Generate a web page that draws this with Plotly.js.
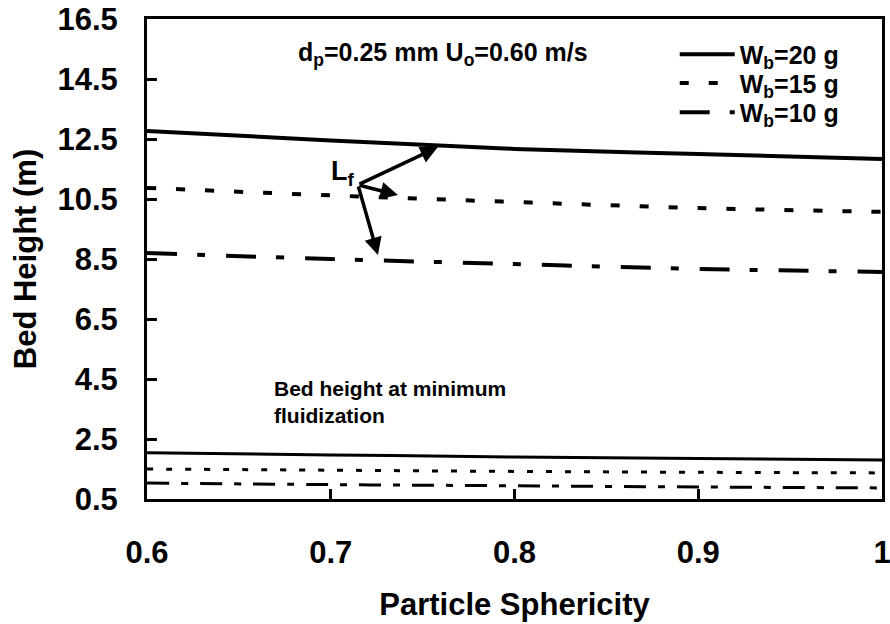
<!DOCTYPE html>
<html>
<head>
<meta charset="utf-8">
<script src="https://cdn.plot.ly/plotly-3.0.1.min.js"></script>
<style>html,body{margin:0;padding:0;background:#fff;}#chart{width:890px;height:624px;}</style>
</head>
<body>
<div id="chart"></div>
<script>
// Particle sphericity (x)
var sphericity = [0.6, 0.7, 0.8, 0.9, 1.0];
// Expanded bed height Lf (m)
var bedH_W20 = [12.77, 12.45, 12.17, 12.0, 11.83];
var bedH_W15 = [10.87, 10.62, 10.4, 10.2, 10.07];
var bedH_W10 = [8.7, 8.5, 8.33, 8.17, 8.07];
// Bed height at minimum fluidization (m)
var bedMf_W20 = [2.04, 1.97, 1.9, 1.85, 1.8];
var bedMf_W15 = [1.5, 1.46, 1.42, 1.39, 1.37];
var bedMf_W10 = [1.03, 0.98, 0.94, 0.9, 0.87];
var seriesNames = ['W<sub>b</sub>=20 g', 'W<sub>b</sub>=15 g', 'W<sub>b</sub>=10 g'];
var xTicks = [0.6, 0.7, 0.8, 0.9, 1.0];
var xTickText = ['0.6', '0.7', '0.8', '0.9', '1'];
var yTicks = [0.5, 2.5, 4.5, 6.5, 8.5, 10.5, 12.5, 14.5, 16.5];
var yTickText = ['0.5', '2.5', '4.5', '6.5', '8.5', '10.5', '12.5', '14.5', '16.5'];

var FONT = 'Liberation Sans, Arial, sans-serif';

var traces = [
  {x: sphericity, y: bedH_W20, name: seriesNames[0], legend: 'legend', mode: 'lines', line: {color: '#000', width: 4, shape: 'spline'}},
  {x: sphericity, y: bedH_W15, name: seriesNames[1], legend: 'legend2', mode: 'lines', line: {color: '#000', width: 4, dash: '9px,20px', shape: 'spline'}},
  {x: sphericity, y: bedH_W10, name: seriesNames[2], legend: 'legend3', mode: 'lines', line: {color: '#000', width: 4, dash: '30px,20px,8px,21px', shape: 'spline'}},
  {x: sphericity, y: bedMf_W20, showlegend: false, mode: 'lines', line: {color: '#000', width: 3, shape: 'spline'}},
  {x: sphericity, y: bedMf_W15, showlegend: false, mode: 'lines', line: {color: '#000', width: 3, dash: '6px,13px', shape: 'spline'}},
  {x: sphericity, y: bedMf_W10, showlegend: false, mode: 'lines', line: {color: '#000', width: 3, dash: '22px,12px,7px,12px', shape: 'spline'}}
];

var arrowBase = {x: 0.7148, y: 10.97};
var arrowHeads = [
  {x: 0.7583, y: 12.23},
  {x: 0.7366, y: 10.63},
  {x: 0.7257, y: 8.63}
];

var annotations = [
  {x: 0.761, y: 15.35, xref: 'x', yref: 'y', text: 'd<sub>p</sub>=0.25 mm U<sub>o</sub>=0.60 m/s', showarrow: false,
   font: {family: FONT, size: 25, color: '#000', weight: 'bold'}},
  {x: 0.668, y: 3.75, xref: 'x', yref: 'y', xanchor: 'left', align: 'left', text: 'Bed height at minimum<br>fluidization', showarrow: false,
   font: {family: FONT, size: 21, color: '#000', weight: 'bold'}},
  {x: 0.7067, y: 11.37, xref: 'x', yref: 'y', text: 'L<sub>f</sub>', showarrow: false,
   font: {family: FONT, size: 27, color: '#000', weight: 'bold'}}
];
arrowHeads.forEach(function (h) {
  annotations.push({x: h.x, y: h.y, ax: arrowBase.x, ay: arrowBase.y, xref: 'x', yref: 'y', axref: 'x', ayref: 'y',
    text: '', showarrow: true, arrowhead: 2, arrowsize: 1, arrowwidth: 3.5, arrowcolor: '#000', standoff: 0, startstandoff: 0});
});

function legendAt(yc) {
  return {x: 0.718, y: yc, xanchor: 'left', yanchor: 'middle', bgcolor: 'rgba(0,0,0,0)', borderwidth: 0,
    itemwidth: 55, font: {family: FONT, size: 25, color: '#000', weight: 'bold'}};
}

var layout = {
  width: 890, height: 624,
  margin: {l: 147, r: 8, t: 19, b: 125},
  paper_bgcolor: '#fff', plot_bgcolor: '#fff',
  font: {family: FONT, color: '#000'},
  showlegend: true,
  legend: legendAt(0.926),
  legend2: legendAt(0.866),
  legend3: legendAt(0.805),
  xaxis: {
    range: [0.6, 1.0], tickvals: xTicks, ticktext: xTickText,
    showline: true, mirror: true, linecolor: '#000', linewidth: 3,
    ticks: 'inside', ticklen: 10, tickwidth: 3, tickcolor: '#000',
    showgrid: false, zeroline: false, ticklabelstandoff: 24, ticklabeloverflow: 'allow',
    tickfont: {family: FONT, size: 31, color: '#000', weight: 'bold'},
    title: {text: 'Particle Sphericity', standoff: 25, font: {family: FONT, size: 31, color: '#000', weight: 'bold'}}
  },
  yaxis: {
    range: [0.5, 16.5], tickvals: yTicks, ticktext: yTickText,
    showline: true, mirror: true, linecolor: '#000', linewidth: 3,
    ticks: 'inside', ticklen: 10, tickwidth: 3, tickcolor: '#000',
    showgrid: false, zeroline: false, ticklabelstandoff: 20, ticklabeloverflow: 'allow',
    tickfont: {family: FONT, size: 31, color: '#000', weight: 'bold'},
    title: {text: 'Bed Height (m)', standoff: 12, font: {family: FONT, size: 31, color: '#000', weight: 'bold'}}
  },
  annotations: annotations
};

Plotly.newPlot('chart', traces, layout, {displayModeBar: false, staticPlot: true});
</script>
</body>
</html>
